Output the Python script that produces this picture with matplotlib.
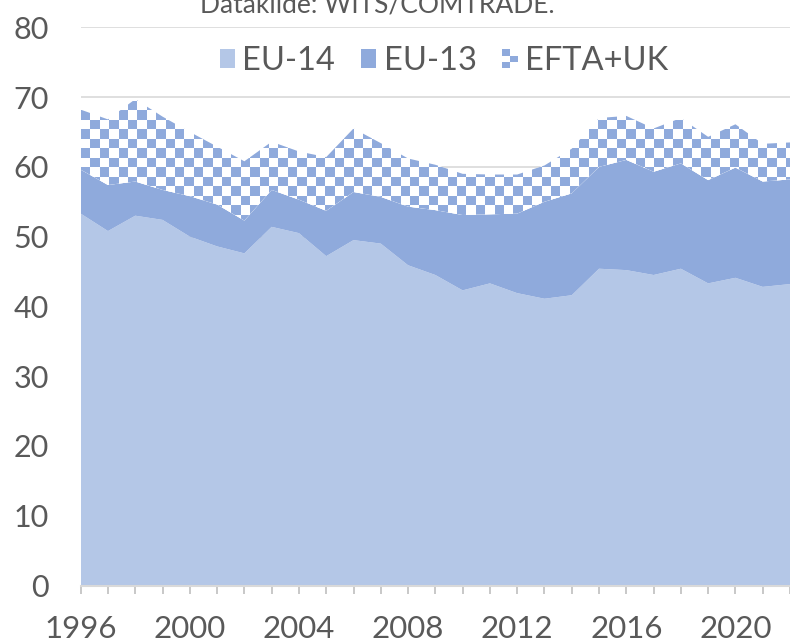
import numpy as np
import matplotlib
matplotlib.use("Agg")
import matplotlib.pyplot as plt
from matplotlib.colors import ListedColormap
from matplotlib.patches import Rectangle, Patch
from matplotlib.legend_handler import HandlerBase

plt.rcParams['font.family'] = ['Lato', 'DejaVu Sans']

years = list(range(1996, 2023))
eu14 = [53.3, 50.8, 53.0, 52.4, 50.0, 48.6, 47.6, 51.4, 50.5, 47.2, 49.5, 49.0, 45.9, 44.5,
        42.3, 43.3, 41.9, 41.1, 41.6, 45.4, 45.2, 44.5, 45.4, 43.3, 44.1, 42.8, 43.2]
eu13 = [6.3, 6.6, 4.9, 4.3, 5.8, 6.0, 4.7, 5.3, 4.8, 6.5, 6.9, 6.7, 8.4, 9.3,
        10.8, 9.9, 11.4, 13.9, 14.6, 14.6, 15.8, 14.8, 15.1, 14.8, 15.8, 15.1, 15.0]
efta_uk = [8.6, 9.4, 11.8, 10.5, 9.2, 8.3, 8.5, 6.9, 6.9, 7.7, 9.1, 7.7, 6.9, 6.5,
           5.9, 5.7, 5.6, 5.2, 6.4, 7.0, 6.3, 6.2, 6.5, 6.2, 6.2, 5.4, 5.3]
labels = ['EU-14', 'EU-13', 'EFTA+UK']
yticks = list(range(0, 81, 10))
xlabels = list(range(1996, 2021, 4))

c_light = '#B4C7E7'
c_mid = '#8FAADC'
grey_txt = '#595959'
grey_line = '#D9D9D9'


class CheckerHandler(HandlerBase):
    def create_artists(self, legend, orig_handle, xdescent, ydescent,
                       width, height, fontsize, trans):
        arts = []
        nx, ny = 2, 3
        cw, ch = width / nx, height / ny
        for i in range(nx):
            for j in range(ny):
                fc = c_mid if (i + j) % 2 == 0 else 'white'
                arts.append(Rectangle((-xdescent + i * cw, -ydescent + j * ch), cw, ch,
                                      facecolor=fc, edgecolor='none', transform=trans))
        return arts


fig = plt.figure(figsize=(7.9, 6.44), dpi=100)
W, H = 790, 644
left, right = 80.7, 790
top, bottom = 27.3, 585.5
ax = fig.add_axes([left / W, 1 - bottom / H, (right - left) / W, (bottom - top) / H])

polys = ax.stackplot(years, eu14, eu13, efta_uk, colors=[c_light, c_mid, 'white'],
                     linewidth=0, zorder=2)

# checkerboard pattern for EFTA+UK, clipped to its area
px_year = (right - left) / 25.7
px_unit = (bottom - top) / 80
cell = 9.5
cx, cy = cell / px_year, cell / px_unit
ncols, nrows = int(27 / cx) + 2, int(82 / cy) + 2
board = (np.add.outer(np.arange(nrows), np.arange(ncols)) % 2)
im = ax.imshow(board, cmap=ListedColormap(['white', c_mid]), origin='lower',
               extent=(1996, 1996 + ncols * cx, 0, nrows * cy), aspect='auto',
               interpolation='nearest', zorder=3)
im.set_clip_path(polys[2].get_paths()[0], transform=ax.transData)

ax.set_xlim(1996, 2021.7)
ax.set_ylim(0, 80)
ax.set_yticks(yticks)
ax.set_xticks(xlabels)
ax.set_xticks(years, minor=True)
ax.yaxis.grid(True, color=grey_line, linewidth=1.2, zorder=0)
ax.set_axisbelow(True)
for s in ['top', 'right', 'left']:
    ax.spines[s].set_visible(False)
ax.spines['bottom'].set_color(grey_line)
ax.spines['bottom'].set_linewidth(1.5)
ax.spines['bottom'].set_zorder(4)
ax.tick_params(axis='y', length=0, pad=23, labelsize=22, labelcolor=grey_txt)
ax.tick_params(axis='x', which='both', length=6, width=1.2, color='#BFBFBF',
               direction='out', pad=15, labelsize=22.5, labelcolor=grey_txt)

handles = [Patch(facecolor=c_light), Patch(facecolor=c_mid), Patch(facecolor='white')]
leg = ax.legend(handles, labels, loc='center', bbox_to_anchor=(0.512, 0.939), ncol=3,
                frameon=False, fontsize=23.5, handlelength=0.48, handleheight=0.5,
                handletextpad=0.22, columnspacing=0.78, labelcolor=grey_txt,
                handler_map={handles[2]: CheckerHandler()})
leg.set_zorder(5)

fig.text(0.477, 1 - 13 / H, 'Datakilde: WITS/COMTRADE.', ha='center', va='baseline',
         fontsize=19, color=grey_txt)

fig.savefig('out.png', dpi=100)
